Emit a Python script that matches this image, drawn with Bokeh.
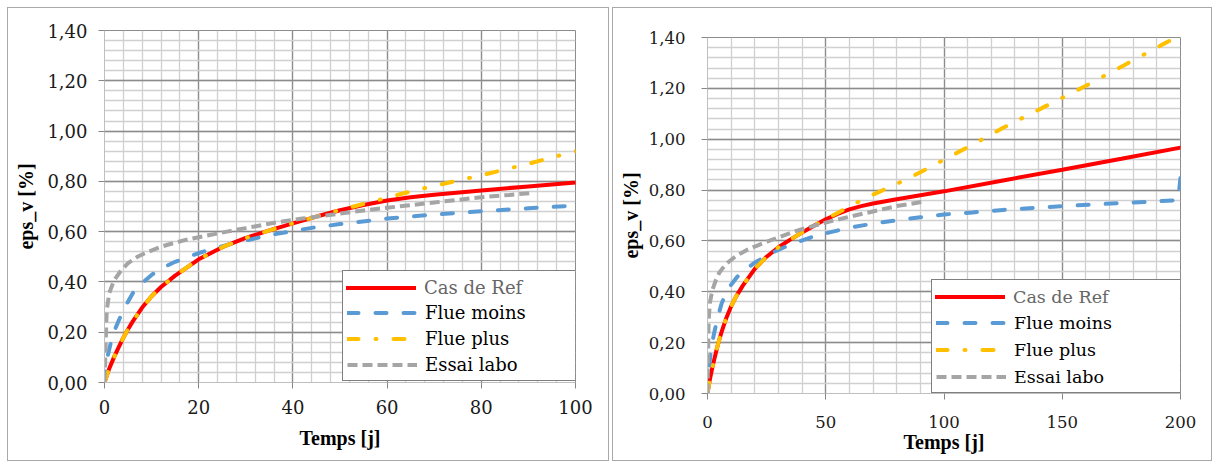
from bokeh.plotting import figure
from bokeh.layouts import row, column
from bokeh.models import Range1d, FixedTicker, CustomJSTickFormatter, Legend, LegendItem
from bokeh.embed import file_html
from bokeh.resources import INLINE

# ---------------- data ----------------
series_names = ["Cas de Ref", "Flue moins", "Flue plus", "Essai labo"]

t_ref = [0, 1, 2, 3, 4, 5, 6, 8, 10, 12, 15, 20, 25, 30, 35, 40, 45, 50, 55, 60,
         65, 70, 80, 90, 100, 125, 150, 175, 200]
v_ref = [0, 0.055, 0.1, 0.14, 0.178, 0.212, 0.243, 0.298, 0.343, 0.38, 0.425, 0.49,
         0.538, 0.575, 0.605, 0.633, 0.66, 0.685, 0.706, 0.724, 0.737, 0.747, 0.764,
         0.78, 0.795, 0.838, 0.88, 0.923, 0.967]

t_moins = [0, 0.3, 0.6, 1.3, 2, 3, 4.5, 6, 8, 10, 12.5, 15, 20, 27, 35, 44, 50, 60,
           70, 80, 90, 100, 112, 125, 150, 175, 199, 200]
v_moins = [0, 0.06, 0.1, 0.155, 0.2, 0.246, 0.305, 0.355, 0.395, 0.428, 0.458, 0.48,
           0.515, 0.552, 0.586, 0.615, 0.63, 0.652, 0.668, 0.681, 0.693, 0.704, 0.712,
           0.722, 0.737, 0.749, 0.76, 0.85]

t_plus = [0, 1, 2, 3, 4, 5, 6, 8, 10, 12, 15, 20, 25, 30, 35, 40, 45, 50, 55, 60, 65,
          70, 75, 80, 85, 90, 95, 100, 110, 125, 143, 160, 176, 192.5, 200]
v_plus = [0, 0.055, 0.1, 0.14, 0.178, 0.212, 0.243, 0.298, 0.343, 0.38, 0.425, 0.49,
          0.538, 0.575, 0.605, 0.633, 0.66, 0.686, 0.71, 0.735, 0.76, 0.782, 0.803,
          0.824, 0.847, 0.87, 0.895, 0.92, 0.968, 1.045, 1.13, 1.21, 1.29, 1.373, 1.41]

t_labo = [0, 0.4, 0.5, 1, 2, 3.5, 5, 7, 9, 12, 14, 17, 20, 26, 30, 36, 42, 50, 55, 60,
          70, 80, 86, 91]
v_labo = [0, 0.25, 0.29, 0.355, 0.405, 0.445, 0.475, 0.5, 0.518, 0.54, 0.551, 0.566,
          0.578, 0.6, 0.614, 0.635, 0.652, 0.672, 0.684, 0.695, 0.716, 0.737, 0.746,
          0.754]

y_ticks = [0, 0.2, 0.4, 0.6, 0.8, 1.0, 1.2, 1.4]
y_tick_labels = ["0,00", "0,20", "0,40", "0,60", "0,80", "1,00", "1,20", "1,40"]
y_minor = [round(i * 0.04, 2) for i in range(36)]

x_ticks_left = [0, 20, 40, 60, 80, 100]
x_ticks_right = [0, 50, 100, 150, 200]

x_label = "Temps [j]"
y_label = "eps_v [%]"

colors = ["#FF0000", "#5B9BD5", "#FFC000", "#A5A5A5"]

fmt = CustomJSTickFormatter(args=dict(yt=y_ticks, yl=y_tick_labels), code="""
for (let i = 0; i < yt.length; i++) { if (Math.abs(yt[i] - tick) < 1e-9) return yl[i]; }
return tick.toFixed(2).replace('.', ',');
""")

LEG_PAD = 4
ITEM_H = 23


def make(xmax, xticks, xminor_step, w, h, mb, tick_size, leg_size, leg_loc, leg_spacing,
         leg_label_w, x_std, xl_std, y_std, yl_std):
    p = figure(width=w, height=h, output_backend="svg", toolbar_location=None,
               x_range=Range1d(0, xmax), y_range=Range1d(0, 1.4),
               min_border_left=mb[0], min_border_right=mb[1],
               min_border_top=mb[2], min_border_bottom=mb[3],
               background_fill_color="white", border_fill_color=None,
               margin=(-7, 0, 0, 0))
    p.outline_line_color = "#8c8c8c"
    xminor = [i * xminor_step for i in range(int(xmax / xminor_step) + 1)]
    p.xaxis.ticker = FixedTicker(ticks=xticks, minor_ticks=xminor)
    p.yaxis.ticker = FixedTicker(ticks=y_ticks, minor_ticks=y_minor)
    p.yaxis.formatter = fmt
    for g in (p.xgrid, p.ygrid):
        g.grid_line_color = "#8c8c8c"
        g.grid_line_width = 1.3
        g.minor_grid_line_color = "#d0d0d0"
        g.minor_grid_line_width = 1.3
    for ax in (p.xaxis, p.yaxis):
        ax.axis_line_color = "#bfbfbf"
        ax.major_tick_line_color = "#868686"
        ax.major_tick_out = 6
        ax.major_tick_in = 0
        ax.minor_tick_out = 0
        ax.minor_tick_in = 0
        ax.major_label_text_font = "DejaVu Serif"
        ax.major_label_text_font_size = f"{tick_size}px"
        ax.major_label_text_color = "#1a1a1a"
        ax.axis_label_text_font = "Liberation Serif"
        ax.axis_label_text_font_style = "bold"
        ax.axis_label_text_font_size = "20px"
        ax.axis_label_text_color = "black"
    p.xaxis.major_label_standoff = x_std
    p.xaxis.axis_label_standoff = xl_std
    p.yaxis.major_label_standoff = y_std
    p.yaxis.axis_label_standoff = yl_std
    p.xaxis.axis_label = x_label
    p.yaxis.axis_label = y_label

    r1 = p.line(t_ref, v_ref, line_color=colors[0], line_width=4, line_cap="round")
    r2 = p.line(t_moins, v_moins, line_color=colors[1], line_width=4, line_cap="round",
                line_dash="11 17")
    r3 = p.line(t_plus, v_plus, line_color=colors[2], line_width=4, line_cap="round",
                line_dash="11 17 1 17")
    r4 = p.line(t_labo, v_labo, line_color=colors[3], line_width=4, line_cap="butt",
                line_dash="10 5")
    common = dict(margin=0, glyph_width=70, glyph_height=ITEM_H, label_height=ITEM_H,
                  label_standoff=8, label_width=leg_label_w,
                  label_text_font="DejaVu Serif", label_text_font_size=f"{leg_size}px",
                  background_fill_color="white", background_fill_alpha=1.0)
    leg = Legend(items=[LegendItem(label=n, renderers=[r]) for n, r in
                        zip(series_names, [r1, r2, r3, r4])],
                 location=leg_loc, padding=LEG_PAD, spacing=leg_spacing,
                 label_text_color="black",
                 border_line_color="black", border_line_width=1, **common)
    p.add_layout(leg, "center")
    # first entry re-drawn on top with its grey label, exactly over the first row
    leg_h = 2 * LEG_PAD + 4 * ITEM_H + 3 * leg_spacing
    top_loc = (leg_loc[0] + LEG_PAD, leg_loc[1] + leg_h - LEG_PAD - ITEM_H)
    leg_first = Legend(items=[LegendItem(label=series_names[0], renderers=[r1])],
                       location=top_loc, padding=0, spacing=0,
                       label_text_color="#666666", border_line_color=None, **common)
    p.add_layout(leg_first, "center")
    return p


left = make(100, x_ticks_left, 4, 600, 459, (96, 33, 29, 78), 18, 18, (238, 1), 3, 153,
            11, 10, 11, 7)
right = make(200, x_ticks_right, 10, 598, 459, (94, 31, 36, 67), 16.5, 17.5, (224, 0), 4, 167,
             16, 0, 16, 4)

box_style = {"border": "1px solid #a9a9a9"}
wl = column(left, styles=box_style, margin=(7, 0, 0, 7))
wr = column(right, styles=box_style, margin=(7, 0, 0, 3))

layout = row(wl, wr)
open("out.html", "w").write(file_html(layout, INLINE))
